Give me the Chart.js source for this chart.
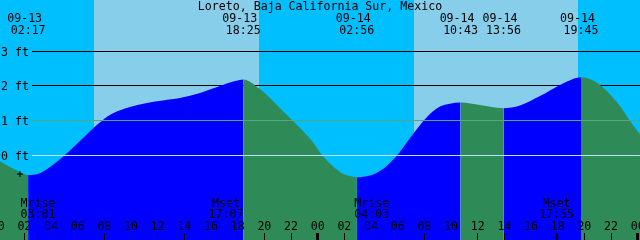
<!DOCTYPE html>
<html><head><meta charset="utf-8">
<script src="https://cdn.jsdelivr.net/npm/chart.js@4/dist/chart.umd.min.js"></script>
<style>html,body{margin:0;padding:0;background:#fff;overflow:hidden}canvas{display:block}</style>
</head><body>
<canvas id="c" width="640" height="240"></canvas>
<script>
// ---- data (hours counted from 09-13 00:00) ----
const title = 'Loreto, Baja California Sur, Mexico';
const tideHours = [0.17,0.92,1.67,2.283, 3.17,3.92,5.05,6.17,7.22,7.82,8.65,9.92,11.20,12.40,13.67,15.17,16.67,17.80,18.417,
  19.67,21.17,22.67,23.57,24.32,25.67,26.42,26.933, 27.92,28.67,29.42,30.17,30.92,31.67,32.42,33.17,33.92,34.717,
  36.17,37.933, 39.17,40.67,42.17,43.07,43.75, 45.17,46.67,47.42,48.17];
const tideFeet = [-0.16,-0.34,-0.48,-0.57, -0.52,-0.34,0.01,0.41,0.80,1.00,1.21,1.39,1.51,1.58,1.65,1.80,2.00,2.14,2.19,
  1.91,1.36,0.79,0.41,0.01,-0.48,-0.60,-0.63, -0.58,-0.45,-0.22,0.10,0.50,0.87,1.19,1.41,1.49,1.52,
  1.45,1.36, 1.44,1.71,2.03,2.19,2.25, 2.03,1.42,0.99,0.61];
const extremeHours = [2.283, 18.417, 26.933, 34.717, 37.933, 43.75];
const extremeDates = ['09-13','09-13','09-14','09-14','09-14','09-14'];
const extremeTimes = ['02:17','18:25','02:56','10:43','13:56','19:45'];
const sunriseHours = [7.22, 31.23];
const sunsetHours = [19.60, 43.55];
const moonHours = [3.017, 17.117, 28.05, 41.917];
const moonEvents = ['Mrise','Mset','Mrise','Mset'];
const moonTimes = ['03:01','17:07','04:03','17:55'];
const hourTicks = [0,2,4,6,8,10,12,14,16,18,20,22,24,26,28,30,32,34,36,38,40,42,44,46,48];
const hourLabels = ['00','02','04','06','08','10','12','14','16','18','20','22','00','02','04','06','08','10','12','14','16','18','20','22','00'];
const gridFeet = [0,1,2,3];
const gridLabels = ['0 ft','1 ft','2 ft','3 ft'];
const markHours = [1.67];
const markFeet = [-0.54];

// ---- styles ----
const NIGHT = '#00BFFF', DAY = '#87CEEB', FLOOD = '#0000FF', EBB = '#2E8B57';
const gridStyle = {0:{color:'#b8e2f6', front:true}, 1:{color:'#52a87c', front:true}, 2:{color:'#000', front:false}, 3:{color:'#000', front:false}};
const FONT = '11.6px "DejaVu Sans Mono", monospace';

const datasets = [{
  type: 'scatter',
  data: markHours.map((h,i)=>({x:h, y:markFeet[i]})),
  pointStyle: 'cross', pointRadius: 3, borderColor: '#000', borderWidth: 1, order: 0
}, {
  type: 'line',
  data: tideHours.map((h,i)=>({x:h, y:tideFeet[i]})),
  fill: 'start',
  backgroundColor: FLOOD,
  segment: { backgroundColor: c => (c.p1.parsed.y > c.p0.parsed.y ? FLOOD : EBB) },
  borderColor: 'rgba(0,0,0,0)', borderWidth: 0, pointRadius: 0,
  cubicInterpolationMode: 'monotone', order: 1
}];

function gridLine(ctx, chart, i) {
  const y = chart.scales.y.getPixelForValue(gridFeet[i]);
  const st = gridStyle[gridFeet[i]];
  ctx.strokeStyle = st.color; ctx.lineWidth = 1;
  ctx.beginPath();
  ctx.moveTo(32, Math.floor(y) + 0.5);
  ctx.lineTo(chart.chartArea.right, Math.floor(y) + 0.5);
  ctx.stroke();
}

const tidePlugin = {
  id: 'tideDecor',
  beforeDatasetsDraw(chart) {
    const {ctx, chartArea: a, scales: {x}} = chart;
    ctx.save();
    ctx.fillStyle = NIGHT;
    ctx.fillRect(a.left, a.top, a.right - a.left, a.bottom - a.top);
    ctx.fillStyle = DAY;
    sunriseHours.forEach((h, i) => {
      const x0 = Math.round(x.getPixelForValue(h));
      const x1 = Math.round(x.getPixelForValue(sunsetHours[i]));
      ctx.fillRect(x0, a.top, x1 - x0, a.bottom - a.top);
    });
    gridFeet.forEach((f, i) => { if (!gridStyle[f].front) gridLine(ctx, chart, i); });
    ctx.restore();
  },
  afterDatasetsDraw(chart) {
    const {ctx, chartArea: a, scales: {x, y}} = chart;
    ctx.save();
    gridFeet.forEach((f, i) => { if (gridStyle[f].front) gridLine(ctx, chart, i); });
    ctx.fillStyle = '#000';
    ctx.font = FONT;
    ctx.textBaseline = 'alphabetic';
    ctx.textAlign = 'left';
    gridFeet.forEach((f, i) => {
      ctx.fillText(gridLabels[i], 1, Math.floor(y.getPixelForValue(f)) + 5);
    });
    ctx.textAlign = 'center';
    ctx.fillText(title, 320, 10);
    extremeHours.forEach((h, i) => {
      const px = x.getPixelForValue(h);
      ctx.fillText(extremeDates[i], px - 3.5, 22);
      ctx.fillText(extremeTimes[i], px, 34);
    });
    moonHours.forEach((h, i) => {
      const px = x.getPixelForValue(h);
      ctx.fillText(moonEvents[i], px, 207);
      ctx.fillText(moonTimes[i], px, 218);
    });
    hourTicks.forEach((h, i) => {
      ctx.fillText(hourLabels[i], x.getPixelForValue(h), 230);
    });
    ctx.strokeStyle = '#000';
    const tick = (h, w) => {
      const px = Math.floor(x.getPixelForValue(h)) + 0.5;
      ctx.lineWidth = w;
      ctx.beginPath(); ctx.moveTo(px, 233); ctx.lineTo(px, a.bottom); ctx.stroke();
    };
    hourTicks.forEach(h => tick(h, h % 24 === 0 ? 3 : 1));
    moonHours.forEach(h => tick(h, 1));
    ctx.restore();
  }
};

new Chart(document.getElementById('c'), {
  data: { datasets },
  options: {
    responsive: false, animation: false,
    layout: { padding: 0, autoPadding: false },
    plugins: { legend: { display: false }, tooltip: { enabled: false } },
    scales: {
      x: { type: 'linear', min: 0.1725, max: 48.1725, display: false },
      y: { type: 'linear', min: -2.443, max: 4.480, display: false }
    }
  },
  plugins: [tidePlugin]
});
</script>
</body></html>
